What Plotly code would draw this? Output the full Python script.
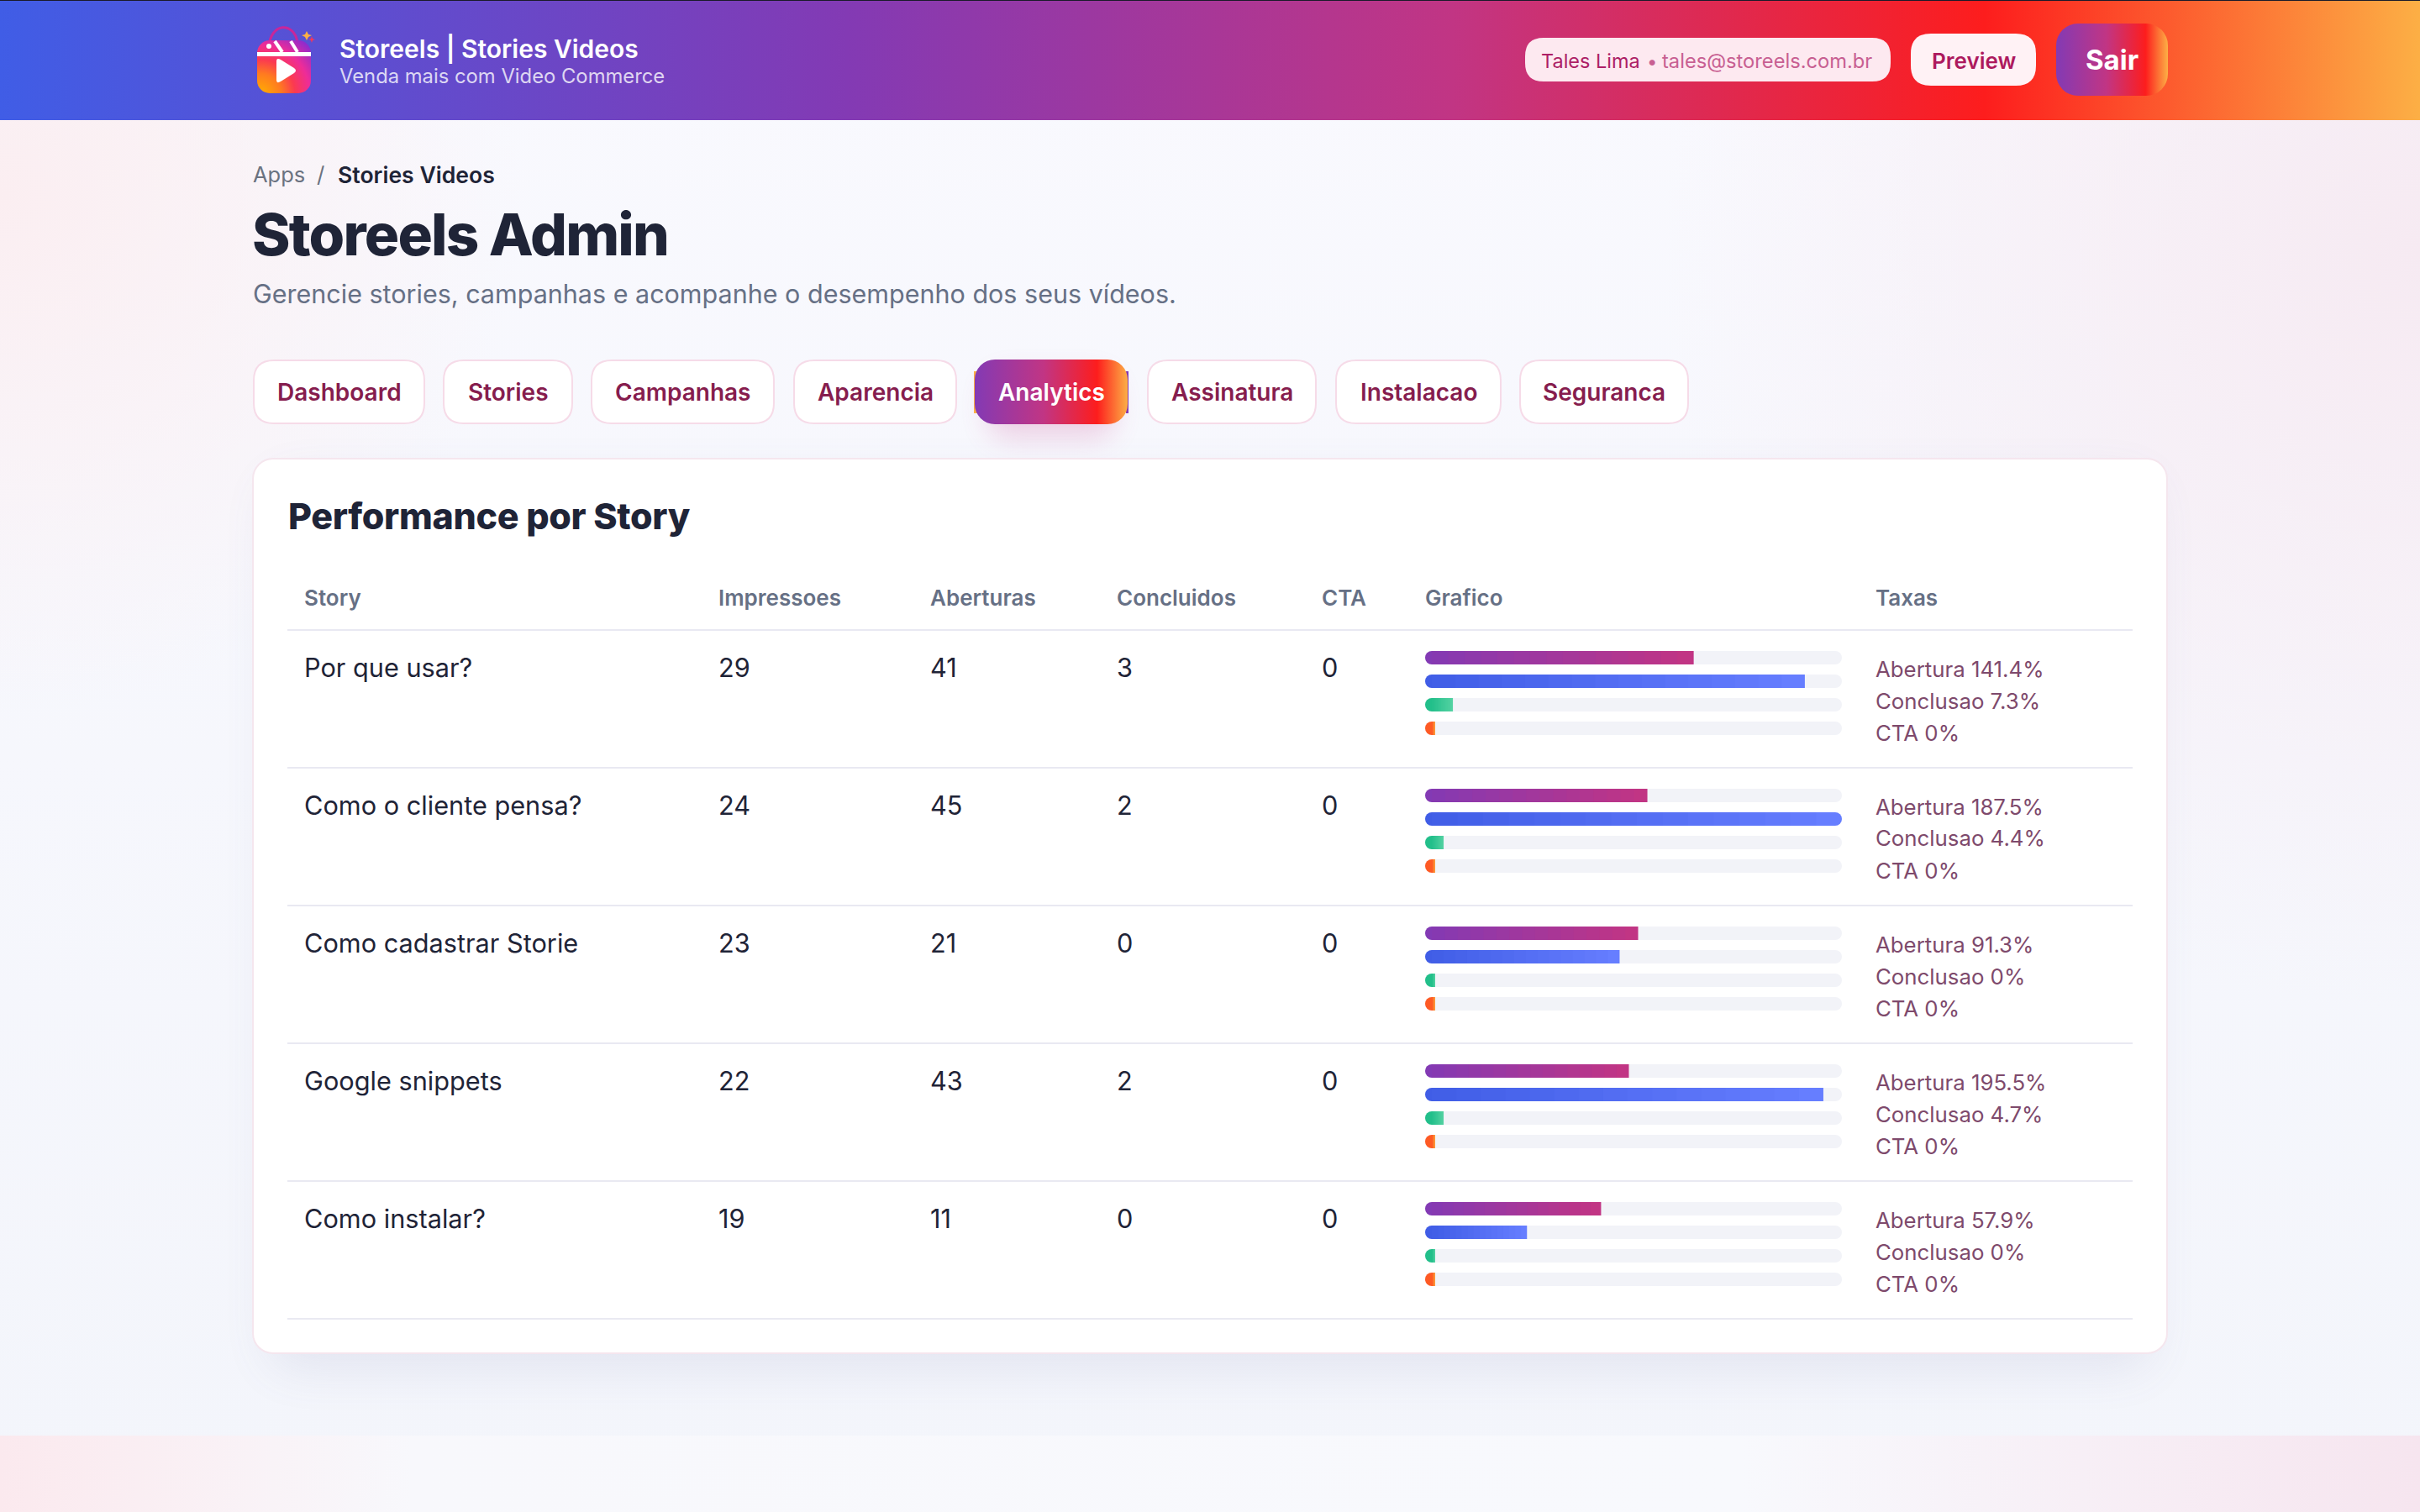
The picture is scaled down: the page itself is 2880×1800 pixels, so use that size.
import base64
import plotly.graph_objects as go

W, H = 2880, 1800

# dados da tabela
stories = ["Por que usar?", "Como o cliente pensa?", "Como cadastrar Storie", "Google snippets", "Como instalar?"]
impressoes = [29, 24, 23, 22, 19]
aberturas = [41, 45, 21, 43, 11]
concluidos = [3, 2, 0, 2, 0]
cta = [0, 0, 0, 0, 0]
taxa_abertura = ["141.4%", "187.5%", "91.3%", "195.5%", "57.9%"]
taxa_conclusao = ["7.3%", "4.4%", "0%", "4.7%", "0%"]
taxa_cta = ["0%", "0%", "0%", "0%", "0%"]
colunas = ["Story", "Impressoes", "Aberturas", "Concluidos", "CTA", "Grafico", "Taxas"]
abas = ["Dashboard", "Stories", "Campanhas", "Aparencia", "Analytics", "Assinatura", "Instalacao", "Seguranca"]

# layout em px da tela
ROW_TOP, ROW_H = 750, 164
BAR_X0, BAR_X1 = 1696, 2192
BAR_MAX = 45
BAR_H, BAR_PITCH, BAR_OFF = 16, 28, 33
MIN_BAR_PX, CAP_PX = 12, 8
COL_X = [361, 855, 1106, 1328, 1572, 1695, 2231]
TAB_X = [(301, 506), (527, 682), (703, 922), (944, 1139), (1159, 1343), (1365, 1567), (1589, 1787), (1808, 2010)]
INK = "#1f2437"
FONT = "Inter"


def px(x):
    return x / W


def py(y):
    return 1 - y / H


def text(x, y, s, size, color, weight=400, anchor="left"):
    # anotacao tem 2px de padding interno
    if anchor == "left":
        x -= 1.5
    return dict(x=px(x), y=py(y), xref="paper", yref="paper", text=s, showarrow=False, xanchor=anchor,
                yanchor="middle", font=dict(family=FONT, size=size, color=color, weight=weight))


def round_rect(x0, y0, x1, y1, r, fill, line=None, lw=0):
    pts = (f"M{px(x0 + r)},{py(y0)} L{px(x1 - r)},{py(y0)} Q{px(x1)},{py(y0)} {px(x1)},{py(y0 + r)} "
           f"L{px(x1)},{py(y1 - r)} Q{px(x1)},{py(y1)} {px(x1 - r)},{py(y1)} L{px(x0 + r)},{py(y1)} "
           f"Q{px(x0)},{py(y1)} {px(x0)},{py(y1 - r)} L{px(x0)},{py(y0 + r)} Q{px(x0)},{py(y0)} {px(x0 + r)},{py(y0)} Z")
    return dict(type="path", path=pts, xref="paper", yref="paper", fillcolor=fill, layer="below",
                line=dict(color=line or fill, width=lw))


def lerp(c0, c1, t):
    a = [int(c0[i:i + 2], 16) for i in (1, 3, 5)]
    b = [int(c1[i:i + 2], 16) for i in (1, 3, 5)]
    return "rgb(%d,%d,%d)" % tuple(a[i] + (b[i] - a[i]) * t for i in range(3))


# fundo da pagina, header e botoes com gradiente ficam num svg so
chrome = f"""<svg xmlns="http://www.w3.org/2000/svg" width="{W}" height="{H}" viewBox="0 0 {W} {H}">
<defs>
<linearGradient id="insta" x1="0" x2="1" y1="0" y2="0">
<stop offset="0" stop-color="#405de6"/><stop offset=".35" stop-color="#833ab4"/>
<stop offset=".6" stop-color="#c13584"/><stop offset=".82" stop-color="#fd1d1d"/><stop offset="1" stop-color="#fcaf45"/>
</linearGradient>
<linearGradient id="btn" x1="0" x2="1" y1="0" y2="0">
<stop offset="0" stop-color="#833ab4"/><stop offset=".45" stop-color="#c13584"/>
<stop offset=".8" stop-color="#fd1d1d"/><stop offset="1" stop-color="#fcaf45"/>
</linearGradient>
<linearGradient id="page" x1="0" x2="0" y1="0" y2="1">
<stop offset="0" stop-color="#f9f9fe"/><stop offset="1" stop-color="#f3f5fb"/>
</linearGradient>
<linearGradient id="strip" x1="0" x2="1" y1="0" y2="0">
<stop offset="0" stop-color="#fbe9ee"/><stop offset=".17" stop-color="#f8f8fc"/>
<stop offset=".72" stop-color="#f8f9fd"/><stop offset="1" stop-color="#f6e5ef"/>
</linearGradient>
<radialGradient id="pinkL" gradientUnits="userSpaceOnUse" cx="0" cy="230" r="620">
<stop offset="0" stop-color="#fbeef1"/><stop offset="1" stop-color="#fbeef1" stop-opacity="0"/>
</radialGradient>
<radialGradient id="pinkR" gradientUnits="userSpaceOnUse" cx="2880" cy="300" r="900">
<stop offset="0" stop-color="#f6eaf2"/><stop offset="1" stop-color="#f6eaf2" stop-opacity="0"/>
</radialGradient>
<radialGradient id="bag" gradientUnits="userSpaceOnUse" cx="310" cy="112" r="82">
<stop offset="0" stop-color="#ffb000"/><stop offset=".3" stop-color="#ff7a20"/><stop offset=".5" stop-color="#fb3a50"/>
<stop offset=".72" stop-color="#ee2c98"/><stop offset="1" stop-color="#8a2bd0"/>
</radialGradient>
<filter id="soft" x="-20%" y="-20%" width="140%" height="150%"><feGaussianBlur stdDeviation="28"/></filter>
<filter id="softTab" x="-40%" y="-60%" width="180%" height="240%"><feGaussianBlur stdDeviation="16"/></filter>
</defs>
<rect width="{W}" height="{H}" fill="url(#page)"/>
<rect width="{W}" height="1709" fill="url(#pinkL)"/>
<rect width="{W}" height="1709" fill="url(#pinkR)"/>
<rect y="1709" width="{W}" height="91" fill="url(#strip)"/>
<rect y="0" width="{W}" height="143" fill="url(#insta)"/>
<rect y="0" width="{W}" height="1" fill="#1a1a2a"/>
<path d="M320 56 C322 26 350 26 354 50" fill="none" stroke="#c8269a" stroke-width="3"/>
<rect x="306" y="48" width="64" height="63" rx="15" fill="url(#bag)"/>
<rect x="306" y="62" width="64" height="5" fill="#fff"/>
<path d="M327 49 L336 62 M346 49 L354 62" stroke="#fff" stroke-width="4"/>
<circle cx="320" cy="55" r="3" fill="#fff"/>
<path d="M329 73 Q329 68 334 71 L350 81 Q354 84 350 87 L334 97 Q329 100 329 95 Z" fill="#fff"/>
<path d="M365 37 L367 41 L371 42 L367 44 L365 48 L363 44 L359 42 L363 41 Z" fill="#fcaf45"/>
<path d="M371 43 L372 46 L375 47 L372 48 L371 51 L370 48 L367 47 L370 46 Z" fill="#f5365c"/>
<rect x="2447" y="28" width="133" height="86" rx="26" fill="url(#btn)"/>
<rect x="1175" y="446" width="152" height="76" rx="24" fill="#c13584" opacity=".2" filter="url(#softTab)"/>
<rect x="1159" y="442" width="4" height="50" fill="#fcaf45"/>
<rect x="1340" y="442" width="3" height="50" fill="#833ab4"/>
<rect x="1160" y="428" width="182" height="77" rx="24" fill="url(#btn)"/>
<rect x="320" y="570" width="2240" height="1060" rx="30" fill="#5a5f9a" opacity=".11" filter="url(#soft)"/>
<rect x="301" y="546" width="2278" height="1065" rx="24" fill="#fff" stroke="#f5e6ee" stroke-width="2"/>
</svg>"""
chrome_uri = "data:image/svg+xml;base64," + base64.b64encode(chrome.encode()).decode()

shapes = []
annotations = []

# pills do header
shapes.append(round_rect(1815, 45, 2250, 97, 22, "#fde9f0"))
shapes.append(round_rect(2274, 40, 2423, 102, 24, "#fff2f5"))

# abas
for i, (x0, x1) in enumerate(TAB_X):
    active = abas[i] == "Analytics"
    if not active:
        shapes.append(round_rect(x0 + 1, 429, x1 - 1, 504, 24, "#ffffff", "#f6dbe8", 2))
    annotations.append(text((x0 + x1) / 2, 467, abas[i], 28, "#ffffff" if active else "#861d4e", 600, "center"))

# linhas da tabela
for i in range(len(stories) + 1):
    y = ROW_TOP + ROW_H * i
    shapes.append(dict(type="line", xref="paper", yref="paper", x0=px(342), x1=px(2538), y0=py(y), y1=py(y),
                       line=dict(color="#e9e9f2", width=2), layer="below"))

# textos fixos
annotations += [
    text(403, 58, "Storeels | Stories Videos", 30, "#ffffff", 600),
    text(403, 90, "Venda mais com Video Commerce", 23.8, "rgba(255,255,255,0.78)"),
    text(1833, 72, "Tales Lima", 23.5, "#ad1f66"),
    text(1966, 73, "•", 22, "#c85f92", anchor="center"),
    text(1977, 72, "tales@storeels.com.br", 23.7, "#c85f92"),
    text(2349, 72, "Preview", 26, "#ad1a5e", 600, "center"),
    text(2513, 71, "Sair", 33, "#ffffff", 700, "center"),
    text(300, 208, "Apps", 25.5, "#6b7280"),
    text(381, 208, "/", 26, "#6b7280", anchor="center"),
    text(401, 208, "Stories Videos", 26.6, INK, 600),
    text(299, 279, "<span style='letter-spacing:-1.8px'>Storeels Admin</span>", 69, INK, 800),
    text(300, 350, "Gerencie stories, campanhas e acompanhe o desempenho dos seus vídeos.", 30.5, "#667085"),
    text(342, 614, "<span style='letter-spacing:-0.35px'>Performance por Story</span>", 43, INK, 800),
]
for x, c in zip(COL_X, colunas):
    annotations.append(text(x, 711, c, 26, "#667085", 600))

for i, s in enumerate(stories):
    y = 794 + ROW_H * i
    cells = [s, impressoes[i], aberturas[i], concluidos[i], cta[i]]
    for x, v in zip(COL_X, cells):
        annotations.append(text(x, y, str(v), 30.7, INK))
    rates = [f"Abertura {taxa_abertura[i]}", f"Conclusao {taxa_conclusao[i]}", f"CTA {taxa_cta[i]}"]
    for j, r in enumerate(rates):
        annotations.append(text(COL_X[6], y + 2 + 38 * j, r, 25.8, "#7e4a6c"))

# barras: cada serie em degraus sobrepostos para imitar o gradiente
fig = go.Figure()
unit = BAR_MAX / (BAR_X1 - BAR_X0)
cap = CAP_PX * unit
min_val = MIN_BAR_PX * unit
series = [
    (impressoes, "#833ab4", "#c13584"),
    (aberturas, "#405de6", "#667eff"),
    (concluidos, "#22bf8a", "#54d2a2"),
    (cta, "#fe5a24", "#fca03d"),
]
STEPS = 16


def add_bar(ys, widths, color):
    fig.add_trace(go.Bar(y=ys, x=widths, orientation="h", width=BAR_H / ROW_H, xaxis="x2", yaxis="y2",
                         marker=dict(color=color, line=dict(width=0), cornerradius=CAP_PX), hoverinfo="skip",
                         showlegend=False))


# o zero do eixo fica "cap" depois da borda: a ponta esquerda e uma barra negativa, para arredondar os dois lados
for j, (vals, c0, c1) in enumerate(series):
    ys = [i + (BAR_OFF + BAR_PITCH * j) / ROW_H for i in range(len(stories))]
    add_bar(ys, [BAR_MAX - cap] * len(ys), "#f2f3f8")
    add_bar(ys, [-cap] * len(ys), "#f2f3f8")
    shown = [max(v, min_val) for v in vals]
    for s in range(STEPS, 0, -1):
        t = s / STEPS
        add_bar(ys, [(v - cap) * t for v in shown], lerp(c0, c1, t))
    add_bar(ys, [-cap] * len(ys), c0)

fig.update_layout(
    width=W, height=H, margin=dict(l=0, r=0, t=0, b=0), paper_bgcolor="#f8f9fd", plot_bgcolor="rgba(0,0,0,0)",
    barmode="overlay", showlegend=False,
    xaxis2=dict(domain=[px(BAR_X0), px(BAR_X1)], range=[-cap, BAR_MAX - cap], visible=False, anchor="y2",
                fixedrange=True),
    yaxis2=dict(domain=[py(ROW_TOP + ROW_H * len(stories)), py(ROW_TOP)], range=[len(stories), 0], visible=False,
                anchor="x2", fixedrange=True),
    images=[dict(source=chrome_uri, xref="paper", yref="paper", x=0, y=1, sizex=1, sizey=1, xanchor="left",
                 yanchor="top", sizing="stretch", layer="below")],
    shapes=shapes, annotations=annotations,
)

fig.write_html("out.html", config={"displayModeBar": False},
               post_script="document.body.style.margin='0';document.body.style.overflow='hidden';")
